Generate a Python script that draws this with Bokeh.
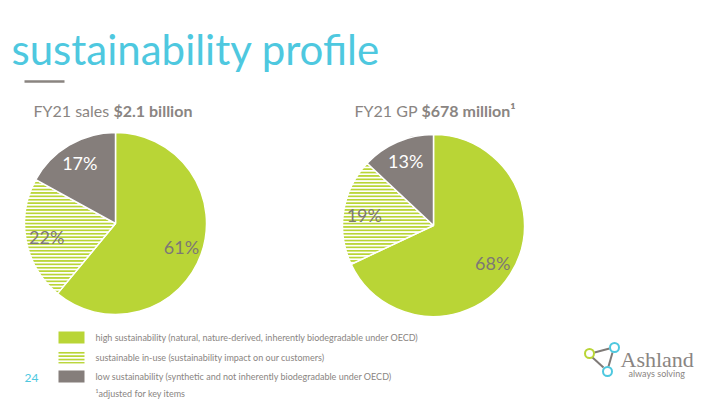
import math
from bokeh.plotting import figure
from bokeh.models import Range1d, Label, ColumnDataSource
from bokeh.embed import file_html
from bokeh.resources import INLINE
from bokeh.core.properties import value

# ---------------- data ----------------
categories = ["high sustainability", "sustainable in-use", "low sustainability"]
sales_share = [61, 22, 17]
gp_share = [68, 19, 13]
legend_text = [
    "high sustainability (natural, nature-derived, inherently biodegradable under OECD)",
    "sustainable in-use (sustainability impact on our customers)",
    "low sustainability (synthetic and not inherently biodegradable under OECD)",
]
sales_title = ["FY21 sales ", "$2.1 billion"]
gp_title = ["FY21 GP ", "$678 million\u00b9"]
footnote = "\u00b9adjusted for key items"
page_number = "24"

# ---------------- style ----------------
GREEN = "#b9d536"
GRAY = "#857e7b"
TEXT = "#8a8582"
CYAN = "#4ec8df"
FONT = "Lato"
fill_colors = [GREEN, "#ffffff", GRAY]
hatches = [" ", "-", " "]
label_colors = ["#7d7875", "#7d7875", "#ffffff"]

W, H = 720, 405
def Y(sy):
    return H - sy

p = figure(width=W, height=H, x_range=Range1d(0, W), y_range=Range1d(0, H),
           output_backend="svg", toolbar_location=None, min_border=0)
p.axis.visible = False
p.grid.visible = False
p.outline_line_color = None
p.background_fill_color = "white"
p.border_fill_color = "white"

R = 91

def pie(cx, cy, shares):
    total = float(sum(shares))
    starts, ends = [], []
    a = math.pi / 2
    for s in shares:
        starts.append(a)
        a -= s / total * 2 * math.pi
        ends.append(a)
    src = ColumnDataSource(dict(start=starts, end=ends, color=fill_colors, hatch=hatches,
                                cat=categories))
    p.wedge(x=cx, y=Y(cy), radius=R, start_angle="start", end_angle="end",
            direction="clock", fill_color="color", line_color="white", line_width=1.5,
            hatch_pattern="hatch", hatch_color=GREEN, hatch_scale=3.4, hatch_weight=2.0,
            source=src)
    mids = [(s + e) / 2 for s, e in zip(starts, ends)]
    lx = [cx + 0.77 * R * math.cos(m) for m in mids]
    ly = [Y(cy) + 0.77 * R * math.sin(m) for m in mids]
    p.text(x=lx, y=ly, text=[f"{s}%" for s in shares], text_color=label_colors,
           text_align="center", text_baseline="middle", text_font=value(FONT),
           text_font_size="18px")

pie(115, 223, sales_share)
pie(433, 225, gp_share)

# title
p.add_layout(Label(x=11, y=Y(48), text="sustainability profile", text_color=CYAN,
                   text_font=FONT, text_font_size="42px", text_baseline="middle"))
p.segment(x0=[24], y0=[Y(81)], x1=[64], y1=[Y(81)], line_color="#8a8480", line_width=2.5)

# chart subtitles
def subtitle(x, parts, w0):
    p.add_layout(Label(x=x, y=Y(110), text=parts[0], text_color=TEXT, text_font=FONT,
                       text_font_size="16px", text_baseline="middle"))
    p.add_layout(Label(x=x + w0, y=Y(110), text=parts[1], text_color=TEXT, text_font=FONT,
                       text_font_size="16px", text_font_style="bold",
                       text_baseline="middle"))

subtitle(33, sales_title, 80)
subtitle(354, gp_title, 67)

# legend
ly = [337, 357, 376]
p.rect(x=[71] * 3, y=[Y(v) for v in ly], width=26, height=12, fill_color=fill_colors,
       line_color=None, hatch_pattern=hatches, hatch_color=GREEN, hatch_scale=3.4,
       hatch_weight=2.0)
p.text(x=[95] * 3, y=[Y(v) for v in ly], text=legend_text, text_color=TEXT,
       text_font=value(FONT), text_font_size="9px", text_baseline="middle")
p.add_layout(Label(x=95, y=Y(393), text=footnote, text_color=TEXT, text_font=FONT,
                   text_font_size="9px", text_baseline="middle"))
p.add_layout(Label(x=24, y=Y(377), text=page_number, text_color=CYAN, text_font=FONT,
                   text_font_size="12px", text_baseline="middle"))

# logo
nodes_x = [589, 614, 607]
nodes_y = [353, 347, 371]
node_col = [GREEN, CYAN, CYAN]
p.segment(x0=[594, 612, 592], y0=[Y(352), Y(352), Y(357)],
          x1=[609, 608, 603], y1=[Y(348), Y(366), Y(367)],
          line_color="#7f7a77", line_width=2)
p.scatter(x=nodes_x, y=[Y(v) for v in nodes_y], size=9, marker="circle",
          fill_color="white", line_color=node_col, line_width=2)
p.add_layout(Label(x=620, y=Y(359), text="Ashland", text_color="#8a8582",
                   text_font="Liberation Serif", text_font_size="22px",
                   text_baseline="middle"))
p.add_layout(Label(x=628, y=Y(373), text="always solving", text_color="#8a8582",
                   text_font=FONT, text_font_size="9px", text_baseline="middle"))

open("out.html", "w").write(file_html(p, INLINE))
